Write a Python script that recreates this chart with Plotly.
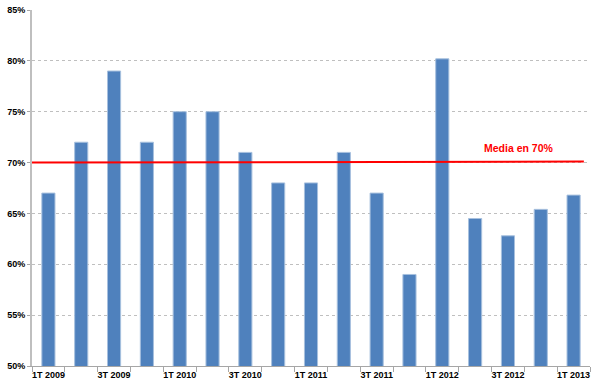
import plotly.graph_objects as go

categories = ["1T 2009", "2T 2009", "3T 2009", "4T 2009",
              "1T 2010", "2T 2010", "3T 2010", "4T 2010",
              "1T 2011", "2T 2011", "3T 2011", "4T 2011",
              "1T 2012", "2T 2012", "3T 2012", "4T 2012",
              "1T 2013"]
values = [67, 72, 79, 72, 75, 75, 71, 68, 68, 71, 67, 59, 80.2, 64.5, 62.8, 65.4, 66.8]
tick_labels = [c if i % 2 == 0 else "" for i, c in enumerate(categories)]
media_start = 70.0
media_end = 70.1
media_label = "Media en 70%"
y_ticks = [50, 55, 60, 65, 70, 75, 80, 85]

font_family = "Liberation Sans"

fig = go.Figure()
fig.add_trace(go.Bar(
    x=categories, y=values,
    marker=dict(color="#4F81BD", line=dict(color="#A7C0DE", width=1)),
    showlegend=False,
))

fig.add_shape(type="line", xref="paper", yref="y",
              x0=0, x1=0.989, y0=media_start, y1=media_end,
              line=dict(color="#FF0000", width=2))

fig.add_annotation(text="<b>" + media_label + "</b>", xref="paper", yref="y",
                   x=0.872, y=71.45, xanchor="center", yanchor="middle",
                   showarrow=False,
                   font=dict(color="#FF0000", size=10.5, family=font_family))

fig.update_layout(
    width=600, height=392,
    margin=dict(l=32, r=10, t=10, b=26),
    plot_bgcolor="white", paper_bgcolor="white",
    bargap=0.6,
    font=dict(family=font_family, size=9, color="#000000"),
)
fig.update_xaxes(
    type="category", automargin=False,
    tickvals=categories, ticktext=["<b>" + t + "</b>" if t else "" for t in tick_labels],
    tickson="boundaries", ticks="outside", ticklen=5, tickcolor="#A6A6A6",
    showline=True, linecolor="#A6A6A6", linewidth=1,
    showgrid=False, tickangle=0,
)
fig.update_yaxes(
    automargin=False,
    range=[50, 85], tickvals=y_ticks,
    ticktext=["<b>%d%%</b>" % v for v in y_ticks],
    showgrid=True, gridcolor="#BFBFBF", griddash="dot", gridwidth=1,
    showline=True, linecolor="#BFBFBF", linewidth=2,
    ticks="outside", ticklen=3, tickcolor="#A6A6A6",
    zeroline=False,
)

fig.write_html("out.html", config={"displayModeBar": False},
               post_script="document.body.style.margin='0';")
